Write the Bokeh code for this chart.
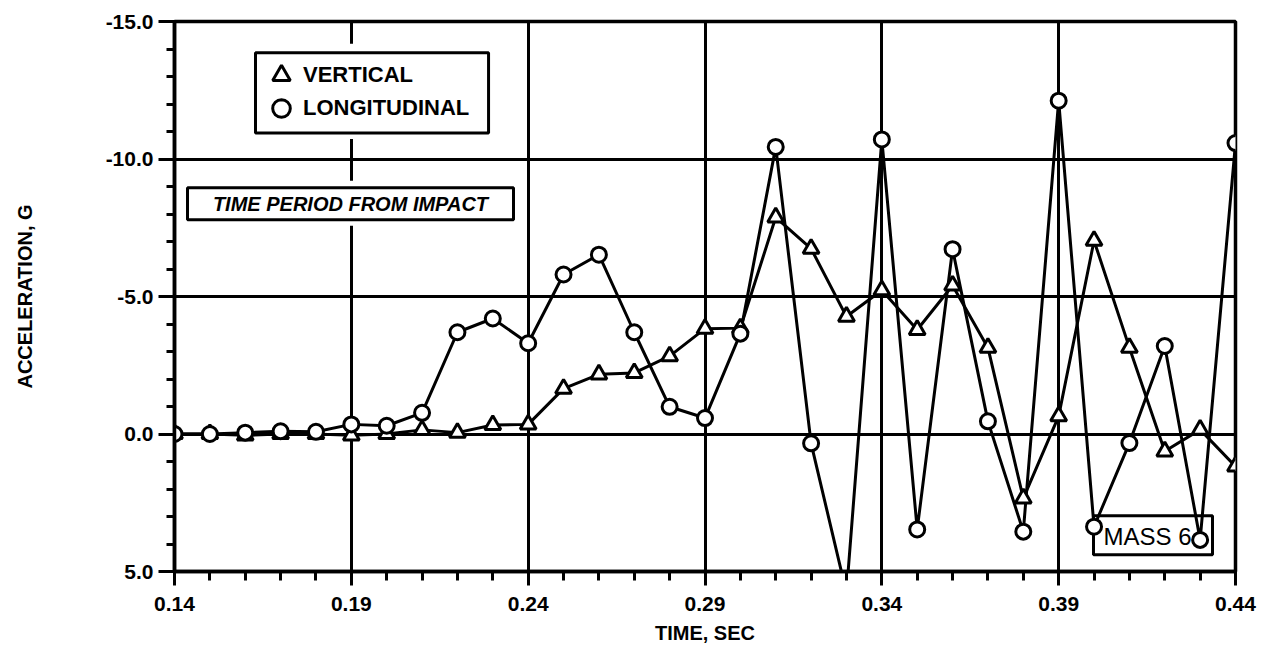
from bokeh.plotting import figure
from bokeh.models import (Range1d, FixedTicker, NumeralTickFormatter, Legend, LegendItem,
                          Label, BoxAnnotation)
from bokeh.embed import file_html
from bokeh.resources import INLINE

# ---- data ----
time_sec = [0.14, 0.15, 0.16, 0.17, 0.18, 0.19, 0.20, 0.21, 0.22, 0.23, 0.24,
            0.25, 0.26, 0.27, 0.28, 0.29, 0.30, 0.31, 0.32, 0.33, 0.34,
            0.35, 0.36, 0.37, 0.38, 0.39, 0.40, 0.41, 0.42, 0.43, 0.44]
vertical_g = [0.0, 0.0, 0.05, 0.0, 0.0, 0.05, 0.0, -0.15, -0.05, -0.33, -0.35,
              -1.65, -2.17, -2.22, -2.83, -3.83, -3.85, -7.88, -6.74, -4.27, -5.23,
              -3.79, -5.40, -3.14, 2.34, -0.65, -7.03, -3.14, 0.63, -0.16, 1.18]
longitudinal_g = [0.0, 0.0, -0.05, -0.1, -0.08, -0.35, -0.3, -0.77, -3.70, -4.20, -3.30,
                  -5.80, -6.52, -3.70, -0.99, -0.58, -3.65, -10.44, 0.34, 5.78, -10.71,
                  3.47, -6.72, -0.46, 3.55, -12.12, 3.37, 0.33, -3.20, 3.85, -10.58]
x_major_ticks = [0.14, 0.19, 0.24, 0.29, 0.34, 0.39, 0.44]
y_major_ticks = [-15, -10, -5, 0, 5]
y_minor_ticks = list(range(-15, 6))

legend_labels = ["VERTICAL", "LONGITUDINAL"]
note_text = "TIME PERIOD FROM IMPACT"
mass_text = "MASS 6"
x_title = "TIME, SEC"
y_title = "ACCELERATION, G"

FONT = "Liberation Sans"

p = figure(width=1261, height=650,
           x_range=Range1d(0.14, 0.44), y_range=Range1d(5, -15),
           output_backend="svg", toolbar_location=None,
           min_border_left=174, min_border_right=26, min_border_top=21, min_border_bottom=79,
           background_fill_color="white", border_fill_color="white")

p.outline_line_color = "black"
p.outline_line_width = 3.5

xt = FixedTicker(ticks=x_major_ticks, minor_ticks=time_sec)
yt = FixedTicker(ticks=y_major_ticks, minor_ticks=y_minor_ticks)

xa = p.xaxis[0]
ya = p.yaxis[0]
xa.ticker = xt
ya.ticker = yt
xa.formatter = NumeralTickFormatter(format="0.00")
ya.formatter = NumeralTickFormatter(format="0.0")

for ax in (xa, ya):
    ax.axis_line_color = "black"
    ax.axis_line_width = 3.5
    ax.major_tick_line_color = "black"
    ax.major_tick_line_width = 3
    ax.minor_tick_line_color = "black"
    ax.minor_tick_line_width = 3
    ax.major_tick_in = 0
    ax.minor_tick_in = 0
    ax.major_label_text_font = FONT
    ax.major_label_text_font_style = "bold"
    ax.major_label_text_font_size = "21px"
    ax.major_label_text_color = "black"
    ax.axis_label_text_font = FONT
    ax.axis_label_text_font_style = "bold"
    ax.axis_label_text_font_size = "20px"
    ax.axis_label_text_color = "black"

xa.major_tick_out = 14
xa.minor_tick_out = 9
xa.major_label_standoff = 11
xa.axis_label = x_title
xa.axis_label_standoff = 8

ya.major_tick_out = 16
ya.minor_tick_out = 8
ya.major_label_standoff = 5
ya.axis_label = y_title
ya.axis_label_standoff = 67

p.xgrid.grid_line_color = "black"
p.xgrid.grid_line_width = 3
p.ygrid.grid_line_color = "black"
p.ygrid.grid_line_width = 3

# legend frame (white pad + black box)
p.add_layout(BoxAnnotation(left=0.1610, right=0.2308, top=-14.19, bottom=-10.73,
                           fill_color="white", fill_alpha=1, line_alpha=0))
p.add_layout(BoxAnnotation(left=0.1629, right=0.2288, top=-13.86, bottom=-10.95,
                           fill_color="white", fill_alpha=1, line_color="black",
                           line_alpha=1, line_width=3))

# note box
p.add_layout(BoxAnnotation(left=0.1417, right=0.2378, top=-9.207, bottom=-7.571,
                           fill_color="white", fill_alpha=1, line_alpha=0))
p.add_layout(BoxAnnotation(left=0.14368, right=0.23585, top=-8.953, bottom=-7.789,
                           fill_color="white", fill_alpha=1, line_color="black",
                           line_alpha=1, line_width=3))
p.add_layout(Label(x=0.18976, y=-8.371, text=note_text, text_align="center",
                   text_baseline="middle", text_font=FONT, text_font_style="bold italic",
                   text_font_size="20px", text_color="black"))

# MASS 6 box, beneath the data
p.add_layout(BoxAnnotation(left=0.39985, right=0.43349, top=2.975, bottom=4.393,
                           fill_alpha=0, line_color="black", line_alpha=1, line_width=3,
                           level="underlay"))
p.add_layout(Label(x=0.40268, y=3.72, text=mass_text, text_align="left",
                   text_baseline="middle", text_font=FONT, text_font_size="24px",
                   text_color="black", level="underlay"))

# series
p.line(time_sec, vertical_g, line_color="black", line_width=3)
p.line(time_sec, longitudinal_g, line_color="black", line_width=3)
tri = p.scatter(time_sec, vertical_g, marker="triangle", size=16,
                fill_color="white", line_color="black", line_width=3)
cir = p.scatter(time_sec, longitudinal_g, marker="circle", size=15,
                fill_color="white", line_color="black", line_width=3)


def make_legend(label, renderer, loc):
    lg = Legend(items=[LegendItem(label=label, renderers=[renderer])], location=loc)
    lg.border_line_alpha = 0
    lg.background_fill_alpha = 0
    lg.label_text_font = FONT
    lg.label_text_font_style = "bold"
    lg.label_text_font_size = "22px"
    lg.label_text_color = "black"
    lg.glyph_width = 44
    lg.glyph_height = 44
    lg.label_height = 44
    lg.spacing = 0
    lg.padding = 0
    lg.margin = 0
    lg.label_standoff = 0
    return lg


p.add_layout(make_legend(legend_labels[0], tri, (85, 474)))
p.add_layout(make_legend(legend_labels[1], cir, (85, 441)))

open("out.html", "w").write(file_html(p, INLINE))
